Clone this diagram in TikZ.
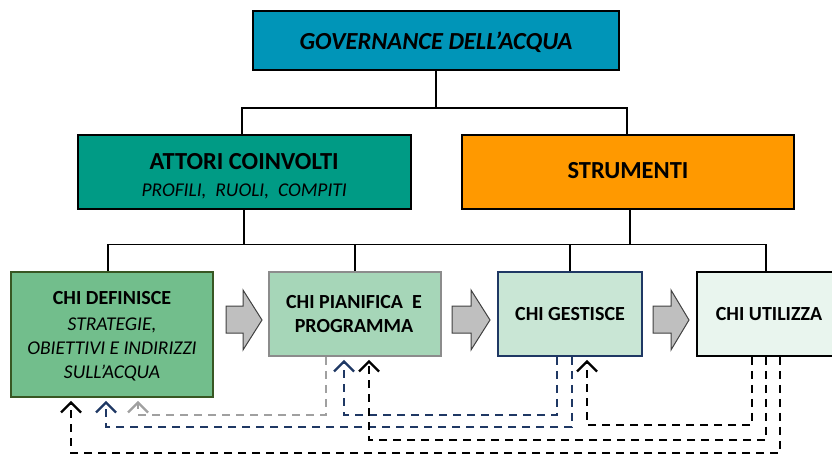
\documentclass[tikz,border=0pt]{standalone}
\usepackage{fontspec}
\setmainfont{Carlito}[BoldItalicFont={Carlito Bold Italic}]
\usetikzlibrary{arrows.meta}
\definecolor{govc}{RGB}{0,149,184}
\definecolor{attc}{RGB}{0,155,133}
\definecolor{strc}{RGB}{255,153,0}
\definecolor{bonef}{RGB}{114,190,140}
\definecolor{boned}{RGB}{56,87,35}
\definecolor{btwof}{RGB}{166,214,184}
\definecolor{btwod}{RGB}{140,140,140}
\definecolor{bthreef}{RGB}{201,230,213}
\definecolor{navyc}{RGB}{31,56,100}
\definecolor{bfourf}{RGB}{233,245,238}
\definecolor{grayln}{RGB}{160,160,160}
\definecolor{arrfill}{RGB}{191,191,191}
\definecolor{arrdraw}{RGB}{64,64,64}
\begin{document}
\begin{tikzpicture}[x=1pt,y=-1pt,
  boxshape/.style={draw=black, line width=1.6pt, rectangle, inner sep=0pt},
  tree/.style={draw=black, line width=1.6pt},
  txt/.style={anchor=base, inner sep=0pt, text=black},
  topb/.style={txt, font=\fontsize{24.5}{28}\selectfont\bfseries},
  topbi/.style={txt, font=\fontsize{24.5}{28}\selectfont\bfseries\itshape},
  subi/.style={txt, font=\fontsize{19.5}{22}\selectfont\itshape},
  lowb/.style={txt, font=\fontsize{20}{24}\selectfont\bfseries},
  blockarr/.style={fill=arrfill, draw=arrdraw, line width=1pt, line join=miter},
  fb/.style={line width=2.6pt, dash pattern=on 8pt off 6pt,
    -{Straight Barb[length=10pt,width=20pt,line width=2.4pt]}, shorten >=3pt}
]
\useasboundingbox (0,0) rectangle (832,454);

% top level
\node[boxshape, fill=govc, minimum width=366pt, minimum height=59pt] (gov) at (436,40.5) {};
\node[topbi] (govt) at (436,49.6) {GOVERNANCE DELL’ACQUA};

\node[boxshape, fill=attc, minimum width=333pt, minimum height=74pt] (att) at (244.2,172) {};
\node[topb] (attt1) at (244.2,169.6) {ATTORI COINVOLTI};
\node[subi] (attt2) at (244.2,196.3) {PROFILI,\ \ RUOLI,\ \ COMPITI};

\node[boxshape, fill=strc, minimum width=332pt, minimum height=74pt] (str) at (628,172) {};
\node[topb] (strt) at (628,178.6) {STRUMENTI};

% lower boxes
\node[boxshape, draw=boned, fill=bonef, minimum width=202pt, minimum height=125pt] (b1) at (112,334.5) {};
\node[lowb] (b1t1) at (112,304.4) {CHI DEFINISCE};
\node[subi] (b1t2) at (112,330.3) {STRATEGIE,};
\node[subi] (b1t3) at (112,354.6) {OBIETTIVI E INDIRIZZI};
\node[subi] (b1t4) at (112,378.3) {SULL’ACQUA};

\node[boxshape, draw=btwod, fill=btwof, minimum width=172pt, minimum height=84pt] (b2) at (355,314) {};
\node[lowb] (b2t1) at (354,308.1) {CHI PIANIFICA\ \ E};
\node[lowb] (b2t2) at (354,332.4) {PROGRAMMA};

\node[boxshape, draw=navyc, fill=bthreef, minimum width=144pt, minimum height=84pt] (b3) at (570,314) {};
\node[lowb] (b3t) at (570,320.1) {CHI GESTISCE};

\node[boxshape, draw=black, fill=bfourf, minimum width=138pt, minimum height=84pt] (b4) at (766,314) {};
\node[lowb] (b4t) at (769,320.1) {CHI UTILIZZA};

% tree connectors
\coordinate (j0) at (434,108);
\coordinate (j1) at (0,244.5);
\draw[tree] (gov.south) -- (gov.south |- j0);
\draw[tree] ([xshift=-2pt]att.north) |- ([xshift=-1pt]str.north |- j0) -- ([xshift=-1pt]str.north);
\draw[tree] (att.south) -- (att.south |- j1);
\draw[tree] ([xshift=2pt]str.south) -- ([xshift=2pt]str.south |- j1);
\draw[tree] ([xshift=-4pt]b1.north) |- (b4.north |- j1) -- (b4.north);
\draw[tree] (b2.north) -- (b2.north |- j1);
\draw[tree] (b3.north) -- (b3.north |- j1);

% block arrows
\draw[blockarr] (226,306) -- (243,306) -- (243,290) -- (262,320) -- (243,350) -- (243,333) -- (226,333) -- cycle;
\draw[blockarr] (452,306) -- (471,306) -- (471,290) -- (490,320) -- (471,350) -- (471,333) -- (452,333) -- cycle;
\draw[blockarr] (653,306) -- (671,306) -- (671,290) -- (689,320) -- (671,350) -- (671,333) -- (653,333) -- cycle;

% dashed feedback connectors
\draw[fb, grayln] ([xshift=-29pt]b2.south) -- ++(0,58) -| ([xshift=26pt]b1.south);
\draw[fb, navyc] ([xshift=-13pt]b3.south) -- ++(0,58) -| ([xshift=-11pt]b2.south);
\draw[fb, navyc] ([xshift=2pt]b3.south) -- ++(0,70) -| ([xshift=-6pt]b1.south);
\draw[fb, black] ([xshift=-14pt]b4.south) -- ++(0,68) -| ([xshift=17pt]b3.south);
\draw[fb, black] (b4.south) -- ++(0,83) -| ([xshift=14pt]b2.south);
\draw[fb, black] ([xshift=14pt]b4.south) -- ++(0,96) -| ([xshift=-41pt]b1.south);
\end{tikzpicture}
\end{document}
